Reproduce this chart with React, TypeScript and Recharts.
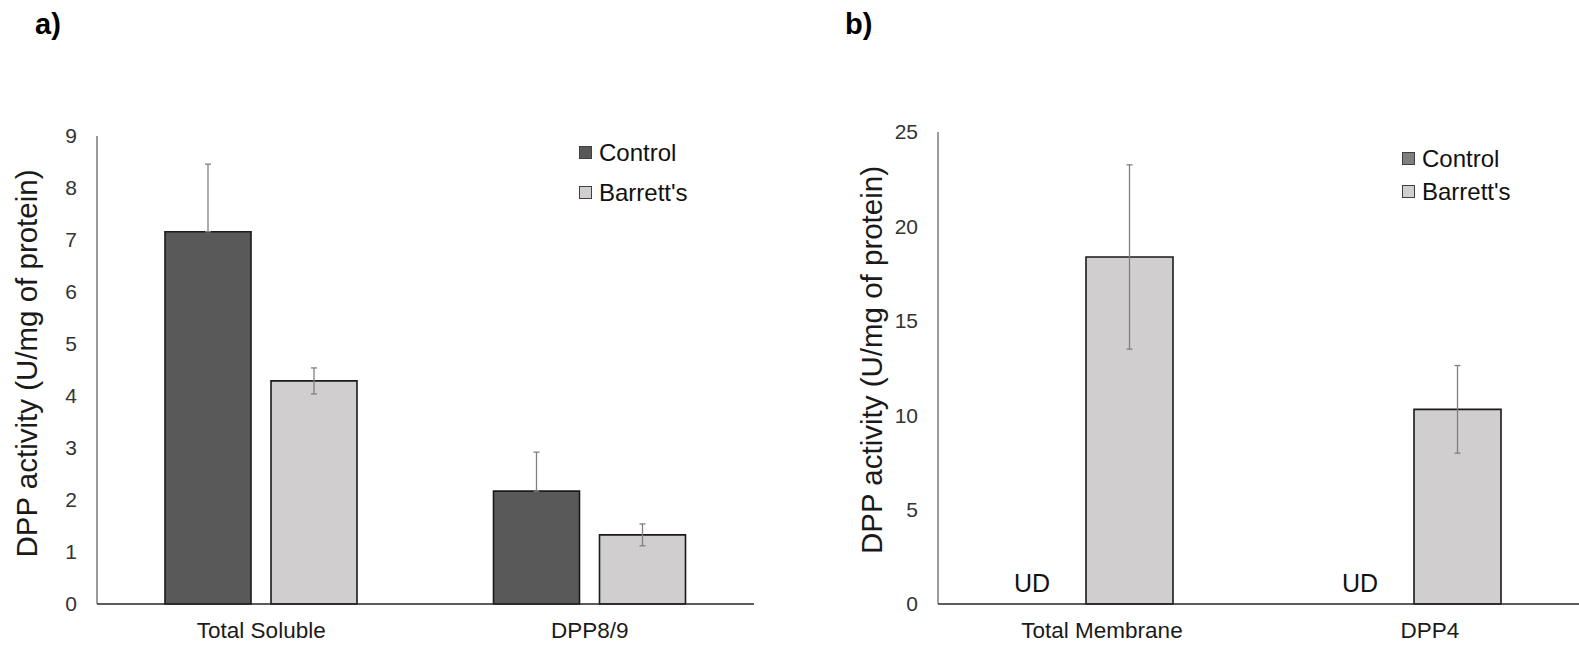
import React from 'react';
import { BarChart, Bar, XAxis, YAxis, ErrorBar, Legend, Label, ReferenceDot } from 'recharts';

// ---- Panel a) soluble fraction ----
const solubleCategories = ['Total Soluble', 'DPP8/9'];
const solubleControl = [7.16, 2.17];
const solubleControlErr = [1.3, 0.75];
const solubleBarrett = [4.29, 1.33];
const solubleBarrettErr = [0.25, 0.21];
const solubleTicks = [0, 1, 2, 3, 4, 5, 6, 7, 8, 9];

// ---- Panel b) membrane fraction ----
const membraneCategories = ['Total Membrane', 'DPP4'];
const membraneControl = [0, 0];
const membraneControlLabel = ['UD', 'UD'];
const membraneBarrett = [18.38, 10.31];
const membraneBarrettErr = [4.88, 2.32];
const membraneTicks = [0, 5, 10, 15, 20, 25];

const seriesNames = ['Control', "Barrett's"];
const yTitle = 'DPP activity (U/mg of protein)';

const solubleData = solubleCategories.map((c, i) => ({
  cat: c,
  control: solubleControl[i],
  controlErr: [0, solubleControlErr[i]],
  barrett: solubleBarrett[i],
  barrettErr: solubleBarrettErr[i],
}));

const membraneData = membraneCategories.map((c, i) => ({
  cat: c,
  control: membraneControl[i],
  barrett: membraneBarrett[i],
  barrettErr: membraneBarrettErr[i],
}));

const FONT = '"Liberation Sans", Arial, sans-serif';
const CONTROL_A = '#595959';
const CONTROL_B = '#7f7f7f';
const BARRETT = '#d0cece';
const ERR = '#808080';

const makeLegend = (gap: number) => (props: any) => {
  const payload = [...(props.payload || [])].sort(
    (a: any, b: any) => seriesNames.indexOf(a.value) - seriesNames.indexOf(b.value)
  );
  return (
    <div style={{ display: 'flex', flexDirection: 'column', gap, fontFamily: FONT }}>
      {payload.map((e: any) => (
        <div key={e.value} style={{ display: 'flex', alignItems: 'center', height: 27 }}>
          <span
            style={{
              width: 13,
              height: 13,
              background: e.color,
              border: '1px solid #404040',
              boxSizing: 'border-box',
              marginRight: 7,
              display: 'inline-block',
            }}
          />
          <span style={{ fontSize: 24, color: '#111', lineHeight: '27px' }}>{e.value}</span>
        </div>
      ))}
    </div>
  );
};

const makeYTitle = (dx: number, dy: number) => (props: any) => {
  const vb = props.viewBox || { x: 0, y: 0, width: 0, height: 0 };
  const cx = vb.x + dx;
  const cy = vb.y + vb.height / 2 + dy;
  return (
    <text
      x={cx}
      y={cy}
      transform={`rotate(-90, ${cx}, ${cy})`}
      textAnchor="middle"
      dominantBaseline="central"
      fontSize={29.5}
      fontFamily={FONT}
      fill="#1a1a1a"
    >
      {yTitle}
    </text>
  );
};

const makeUdShape = (text: string) => (p: any) => {
  const cx = Number(p.cx);
  const cy = Number(p.cy);
  if (!isFinite(cx) || !isFinite(cy)) return <g />;
  return (
    <text x={cx - 70} y={cy - 12} textAnchor="middle" fontSize={25} fontFamily={FONT} fill="#111">
      {text}
    </text>
  );
};

const tickStyle = { fontSize: 21, fill: '#333333', fontFamily: FONT };
const catTickStyle = { fontSize: 22.5, fill: '#1a1a1a', fontFamily: FONT };

const panelLabel = (text: string, left: number) => (
  <div
    style={{
      position: 'absolute',
      left,
      top: 10,
      fontSize: 29,
      lineHeight: 1,
      fontWeight: 'bold',
      fontFamily: FONT,
      color: '#000',
    }}
  >
    {text}
  </div>
);

export default function App() {
  return (
    <div
      style={{
        position: 'absolute',
        left: 0,
        top: 0,
        width: 1579,
        height: 646,
        overflow: 'hidden',
        background: '#fff',
        fontFamily: FONT,
      }}
    >
      {panelLabel('a)', 35)}
      {panelLabel('b)', 845)}

      <div style={{ position: 'absolute', left: 0, top: 0 }}>
        <BarChart
          width={774}
          height={646}
          data={solubleData}
          margin={{ top: 136, right: 20, bottom: 0, left: 0 }}
          barSize={86}
          barGap={20}
        >
          <XAxis
            dataKey="cat"
            tickLine={false}
            axisLine={{ stroke: '#262626', strokeWidth: 1.6 }}
            tick={catTickStyle}
            tickSize={0}
            tickMargin={18}
            height={42}
            interval={0}
          />
          <YAxis
            domain={[0, 9]}
            ticks={solubleTicks}
            interval={0}
            width={97}
            tickLine={false}
            tickSize={0}
            tickMargin={20}
            axisLine={{ stroke: '#595959', strokeWidth: 1.2 }}
            tick={tickStyle}
          >
            <Label content={makeYTitle(26, -6.5)} />
          </YAxis>
          <Legend
            layout="vertical"
            align="center"
            verticalAlign="middle"
            content={makeLegend(13)}
            wrapperStyle={{ position: 'absolute', left: 579, top: 139, width: 'auto', height: 'auto' }}
          />
          <Bar
            dataKey="control"
            name={seriesNames[0]}
            fill={CONTROL_A}
            stroke="#1a1a1a"
            strokeWidth={1.6}
            isAnimationActive={false}
          >
            <ErrorBar dataKey="controlErr" direction="y" width={3} stroke={ERR} strokeWidth={1.3} />
          </Bar>
          <Bar
            dataKey="barrett"
            name={seriesNames[1]}
            fill={BARRETT}
            stroke="#1a1a1a"
            strokeWidth={1.6}
            isAnimationActive={false}
          >
            <ErrorBar dataKey="barrettErr" direction="y" width={3} stroke={ERR} strokeWidth={1.3} />
          </Bar>
        </BarChart>
      </div>

      <div style={{ position: 'absolute', left: 800, top: 0 }}>
        <BarChart
          width={794}
          height={646}
          data={membraneData}
          margin={{ top: 132, right: 0, bottom: 0, left: 0 }}
          barSize={87}
          barGap={-32}
        >
          <XAxis
            dataKey="cat"
            tickLine={false}
            axisLine={{ stroke: '#262626', strokeWidth: 1.6 }}
            tick={catTickStyle}
            tickSize={0}
            tickMargin={18}
            height={42}
            interval={0}
          />
          <YAxis
            domain={[0, 25]}
            ticks={membraneTicks}
            interval={0}
            width={138}
            tickLine={false}
            tickSize={0}
            tickMargin={20}
            axisLine={{ stroke: '#595959', strokeWidth: 1.2 }}
            tick={tickStyle}
          >
            <Label content={makeYTitle(71, -8)} />
          </YAxis>
          <Legend
            layout="vertical"
            align="center"
            verticalAlign="middle"
            content={makeLegend(6)}
            wrapperStyle={{ position: 'absolute', left: 602, top: 145, width: 'auto', height: 'auto' }}
          />
          <Bar
            dataKey="control"
            name={seriesNames[0]}
            fill={CONTROL_B}
            stroke="#1a1a1a"
            strokeWidth={1.6}
            isAnimationActive={false}
          />
          <Bar
            dataKey="barrett"
            name={seriesNames[1]}
            fill={BARRETT}
            stroke="#1a1a1a"
            strokeWidth={1.6}
            isAnimationActive={false}
          >
            <ErrorBar dataKey="barrettErr" direction="y" width={3} stroke={ERR} strokeWidth={1.3} />
          </Bar>
          {membraneCategories.map((c, i) => (
            <ReferenceDot
              key={c}
              x={c}
              y={membraneControl[i]}
              r={0}
              ifOverflow="visible"
              shape={makeUdShape(membraneControlLabel[i])}
            />
          ))}
        </BarChart>
      </div>
    </div>
  );
}
